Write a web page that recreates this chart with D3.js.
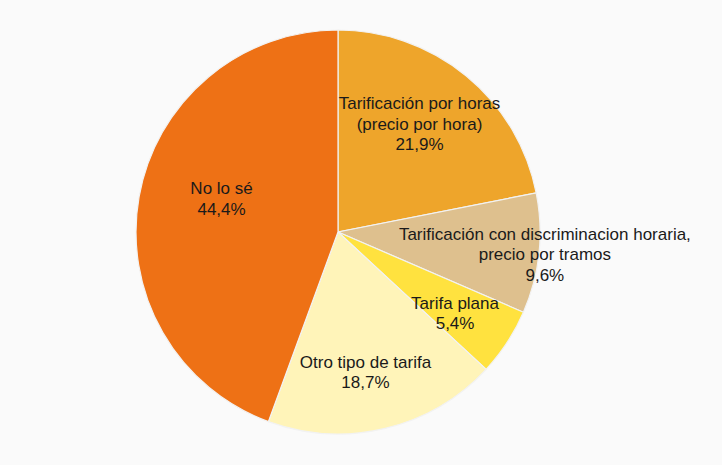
<!DOCTYPE html>
<html><head><meta charset="utf-8">
<script src="https://cdn.jsdelivr.net/npm/d3@7"></script>
<style>
html,body{margin:0;padding:0;background:#fafafa;}
svg{display:block;}
</style></head>
<body>
<svg id="chart" width="722" height="465"></svg>
<script>
const categories = [
  ["Tarificación por horas", "(precio por hora)"],
  ["Tarificación con discriminacion horaria,", "precio por tramos"],
  ["Tarifa plana"],
  ["Otro tipo de tarifa"],
  ["No lo sé"]
];
const values = [21.9, 9.6, 5.4, 18.7, 44.4];
const valueLabels = ["21,9%", "9,6%", "5,4%", "18,7%", "44,4%"];
const colors = ["#eea52b", "#dec08e", "#ffe23f", "#fff4b9", "#ee7115"];

const svg = d3.select("#chart");
svg.append("rect").attr("width", 722).attr("height", 465).attr("fill", "#fafafa");
const cx = 338, cy = 232, r = 202;
const g = svg.append("g").attr("transform", `translate(${cx},${cy})`);

const pie = d3.pie().sort(null).value(d => d);
const arcs = pie(values);
const arc = d3.arc().innerRadius(0).outerRadius(r);

g.selectAll("path").data(arcs).join("path")
  .attr("d", arc)
  .attr("fill", (d, i) => colors[i])
  .attr("stroke", "#f2f2f2")
  .attr("stroke-width", 1.2);

// label placement: radius factor and angular nudge (degrees)
const labelFactor = [0.67, 1.03, 0.705, 0.706, 0.60];
const labelNudge = [-2.4, 0, 1.6, 2.4, 6];
const lineH = 20.5;
arcs.forEach((d, i) => {
  const a = (d.startAngle + d.endAngle) / 2 + labelNudge[i] * Math.PI / 180;
  const rr = r * labelFactor[i];
  const x = Math.sin(a) * rr, y = -Math.cos(a) * rr;
  const lines = categories[i].concat([valueLabels[i]]);
  const t = g.append("text")
    .attr("text-anchor", "middle")
    .attr("font-family", "Arial, 'Liberation Sans', sans-serif")
    .attr("font-size", 17)
    .attr("fill", "#1a1a1a");
  const y0 = y - (lines.length - 1) * lineH / 2;
  lines.forEach((s, k) => {
    t.append("tspan").attr("x", x).attr("y", y0 + k * lineH).attr("dy", "0.35em").text(s);
  });
});
</script>
</body></html>
